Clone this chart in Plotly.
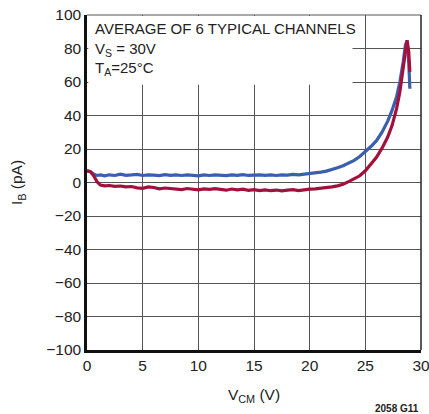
import plotly.graph_objects as go

# Data (V_CM in volts, I_B in pA)
vcm_blue = [0, 0.3, 0.6, 0.9, 1.2, 1.6, 2.0, 2.5, 3.0, 3.5, 4.0, 4.5, 5.0, 5.5, 6.0, 6.5, 7.0, 7.5, 8.0,
            8.5, 9.0, 9.5, 10.0, 10.5, 11.0, 11.5, 12.0, 12.5, 13.0, 13.5, 14.0, 14.5, 15.0, 15.5, 16.0,
            16.5, 17.0, 17.5, 18.0, 18.5, 19.0, 19.5, 20.0, 20.5, 21.0, 21.5, 22.0, 22.5, 23.0, 23.5,
            24.0, 24.5, 25.0, 25.5, 26.0, 26.5, 27.0, 27.4, 27.8, 28.1, 28.4, 28.6, 28.75, 28.9, 29.0]
ib_blue = [7, 6.5, 5, 4.2, 4.5, 4, 4.6, 4.2, 5, 4.3, 4.5, 4.8, 4.2, 4.6, 4.4, 4.1, 4.7, 4.3, 4.5,
           4.2, 4.6, 4.3, 4.0, 4.5, 4.2, 4.6, 4.4, 4.1, 4.5, 4.3, 4.7, 4.2, 4.4, 4.6, 4.3,
           4.5, 4.2, 4.6, 4.4, 4.8, 4.5, 4.9, 5.0, 5.4, 6.2, 6.8, 7.6, 8.8, 10.0, 11.4,
           13.2, 15.5, 18.2, 21.5, 25.0, 30.0, 36.5, 43, 51, 60, 72, 82, 84.5, 72, 56]

vcm_red = [0, 0.3, 0.6, 0.9, 1.2, 1.6, 2.0, 2.5, 3.0, 3.5, 4.0, 4.5, 5.0, 5.5, 6.0, 6.5, 7.0, 7.5, 8.0,
           8.5, 9.0, 9.5, 10.0, 10.5, 11.0, 11.5, 12.0, 12.5, 13.0, 13.5, 14.0, 14.5, 15.0, 15.5, 16.0,
           16.5, 17.0, 17.5, 18.0, 18.5, 19.0, 19.5, 20.0, 20.5, 21.0, 21.5, 22.0, 22.5, 23.0, 23.5,
           24.0, 24.5, 25.0, 25.5, 26.0, 26.5, 27.0, 27.4, 27.8, 28.1, 28.4, 28.6, 28.75, 28.9, 29.0]
ib_red = [7, 6.5, 4, 0.5, -1.5, -2, -1.8, -2.3, -2.1, -2.6, -2.4, -3.2, -3.5, -2.6, -3.0, -3.8, -3.3, -3.6, -3.9,
          -4.2, -3.6, -4.0, -4.4, -3.8, -4.1, -3.7, -4.3, -4.6, -3.9, -4.4, -4.0, -4.7, -4.3, -4.8, -4.4,
          -4.9, -4.5, -5.0, -4.6, -4.3, -4.8, -4.2, -4.0, -3.8, -3.5, -3.0, -2.6, -2.0, -1.0, 0.5,
          2.0, 4.0, 7.0, 11.0, 15.0, 20.5, 27.0, 34, 44, 54, 67, 78, 85, 78, 66]

x_ticks = [0, 5, 10, 15, 20, 25, 30]
y_ticks = [-100, -80, -60, -40, -20, 0, 20, 40, 60, 80, 100]
y_tick_text = [("\u2212" + str(-v)) if v < 0 else str(v) for v in y_ticks]

FAM = "Liberation Sans, Arial, sans-serif"

fig = go.Figure()
fig.add_trace(go.Scatter(x=vcm_blue, y=ib_blue, mode="lines",
                         line=dict(color="#3b5ead", width=3.2), showlegend=False))
fig.add_trace(go.Scatter(x=vcm_red, y=ib_red, mode="lines",
                         line=dict(color="#a3103c", width=3.2), showlegend=False))

font = dict(family=FAM, size=15.5, color="#222222")

fig.update_layout(
    width=429, height=414,
    margin=dict(l=87, r=8, t=15, b=64, autoexpand=False),
    paper_bgcolor="white", plot_bgcolor="white",
    font=font,
    xaxis=dict(range=[0, 30], tickvals=x_ticks, ticktext=[str(v) for v in x_ticks],
               showgrid=True, gridcolor="#555555", gridwidth=1.2,
               showline=True, linecolor="#111111", linewidth=2.5,
               zeroline=False, ticks="", tickfont=font, automargin=False,
               ticklabeloverflow="allow",
               title=dict(text="V<sub>CM</sub> (V)", font=font, standoff=16)),
    yaxis=dict(range=[-100, 100], tickvals=y_ticks, ticktext=y_tick_text,
               showgrid=True, gridcolor="#555555", gridwidth=1.2,
               showline=True, linecolor="#111111", linewidth=2.5,
               zeroline=False, ticks="", tickfont=font, automargin=False,
               ticklabeloverflow="allow",
               title=dict(text="I<sub>B</sub> (pA)", font=font, standoff=20)),
)

# top and right frame
fig.add_shape(type="line", xref="paper", yref="paper", x0=0, x1=1, y0=1, y1=1,
              line=dict(color="#555555", width=1.2))
fig.add_shape(type="line", xref="paper", yref="paper", x0=1, x1=1, y0=0, y1=1,
              line=dict(color="#222222", width=1.5))

# white box with conditions text
fig.add_shape(type="rect", xref="paper", yref="paper", x0=0.004, x1=0.795, y0=0.792, y1=0.997,
              fillcolor="white", line=dict(width=0), layer="above")
fig.add_annotation(xref="paper", yref="paper", x=0.018, y=0.99, xanchor="left", yanchor="top",
                   align="left", showarrow=False,
                   text="AVERAGE OF 6 TYPICAL CHANNELS<br>V<sub>S</sub> = 30V<br>T<sub>A</sub>=25°C",
                   font=dict(family=FAM, size=15, color="#222222"))

fig.add_annotation(xref="paper", yref="paper", x=1.0, y=-0.175, xanchor="right", yanchor="middle",
                   showarrow=False, text="<b>2058 G11</b>",
                   font=dict(family=FAM, size=10, color="#222222"))

fig.write_html("out.html", config={"displayModeBar": False},
               post_script="document.body.style.margin='0px';document.body.style.overflow='hidden';")
